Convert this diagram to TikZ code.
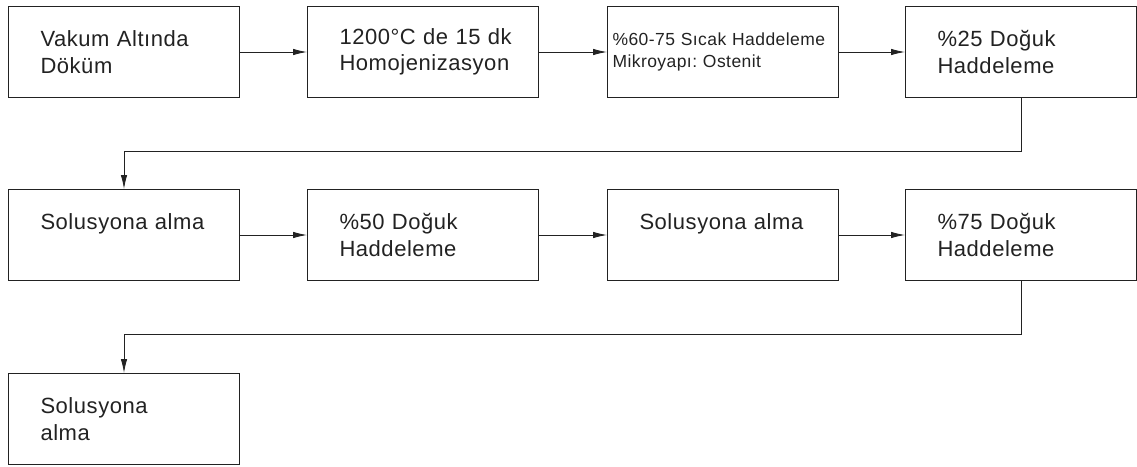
\documentclass[tikz,border=0pt]{standalone}
\usepackage{fontspec}
\setmainfont{Liberation Sans}[LetterSpace=2.5]
\usetikzlibrary{arrows.meta}
\definecolor{ink}{HTML}{222222}
\tikzset{
  stepbox/.style={draw=ink, line width=1pt, anchor=north west, minimum width=231pt, minimum height=91pt,
    inner xsep=32pt, inner ysep=0pt, text width=167pt, align=left, text=ink,
    font=\fontsize{22pt}{26.5pt}\selectfont\frenchspacing},
  smallbox/.style={stepbox, inner xsep=5pt, text width=221pt, font=\fontsize{17.5pt}{22pt}\selectfont\frenchspacing},
  conn/.style={draw=ink, line width=0.9pt, -{Latex[length=14pt,width=6.5pt]}}
}
\begin{document}
\begin{tikzpicture}[x=1pt,y=-1pt]
\useasboundingbox (0,0) rectangle (1137,466);
\node[stepbox] (b1) at (8,6) {Vakum Altında\\Döküm};
\node[stepbox] (b2) at (307,6) {\mbox{1200°C de 15 dk}\\Homojenizasyon};
\node[smallbox] (b3) at (607,6) {\mbox{\%60-75 Sıcak Haddeleme}\\Mikroyapı: Ostenit};
\node[stepbox] (b4) at (905,6) {\%25 Doğuk\\Haddeleme};
\node[stepbox] (b5) at (8,189) {Solusyona alma\\\mbox{}};
\node[stepbox] (b6) at (307,189) {\%50 Doğuk\\Haddeleme};
\node[stepbox] (b7) at (607,189) {Solusyona alma\\\mbox{}};
\node[stepbox] (b8) at (905,189) {\%75 Doğuk\\Haddeleme};
\node[stepbox] (b9) at (8,373) {Solusyona\\alma};
\draw[conn] (b1) -- (b2);
\draw[conn] (b2) -- (b3);
\draw[conn] (b3) -- (b4);
\draw[conn] (b4.south) -- ++(0,53) -| (b5.north);
\draw[conn] (b5) -- (b6);
\draw[conn] (b6) -- (b7);
\draw[conn] (b7) -- (b8);
\draw[conn] (b8.south) -- ++(0,53) -| (b9.north);
\end{tikzpicture}
\end{document}
